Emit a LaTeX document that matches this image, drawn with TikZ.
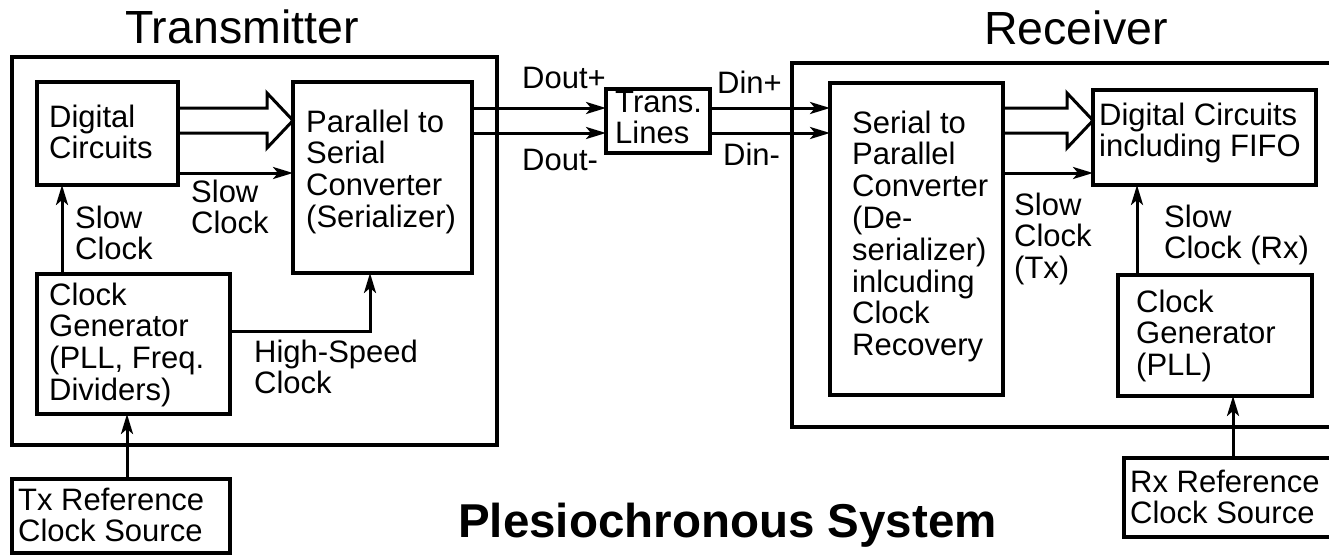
\documentclass[tikz,border=0pt]{standalone}
\usepackage{fontspec}
\setmainfont{Liberation Sans}
\usetikzlibrary{arrows.meta,calc}
\newcommand\bodyfont{\fontsize{31}{31.8}\selectfont}
\newcommand\titlefont{\fontsize{46.5}{50}\selectfont}
\newcommand\sysfont{\bfseries\fontsize{47.5}{50}\selectfont}
\begin{document}
\begin{tikzpicture}[x=1pt,y=-1pt,
  box/.style={draw, line width=4pt, rectangle, anchor=north west, inner sep=0pt, outer sep=0pt},
  frame/.style={box, line width=3.5pt},
  txt/.style={anchor=north west, inner sep=0pt, align=left, font=\bodyfont},
  lbl/.style={anchor=base west, inner sep=0pt, font=\bodyfont},
  arr/.style={line width=3pt, -{Stealth[length=20pt,width=12pt,inset=5pt]}},
  hollow/.style={line width=3pt, line join=miter}]
\useasboundingbox (0,0) rectangle (1329,555);
\fill[white] (0,0) rectangle (1329,555);
\clip (0,0) rectangle (1329,555);

% signal lanes between blocks
\coordinate (laneP) at (0,108);
\coordinate (laneN) at (0,133);
\coordinate (laneM) at (0,120.5);
\coordinate (laneS) at (0,173);

% ---------- transmitter ----------
\node[frame, minimum width=485pt, minimum height=388pt] (txouter) at (12,57) {};
\node[box, minimum width=141pt, minimum height=103pt] (txdig) at (37,82) {};
\node[box, minimum width=179pt, minimum height=191pt] (ser) at (293,82) {};
\node[box, minimum width=193pt, minimum height=140pt] (txclk) at (37,274) {};
\node[frame, minimum width=218pt, minimum height=74pt] (txref) at (12,479) {};

\node[anchor=base west, inner sep=0pt, font=\titlefont] (ttx) at (125,43) {Transmitter};
\node[txt] (txdigt) at (49,104.5) {Digital\\Circuits};
\node[txt] (sert) at (306,109.5) {Parallel to\\Serial\\Converter\\(Serializer)};
\node[txt] (slowa) at (191,179.5) {Slow\\Clock};
\node[txt] (slowb) at (75,205.5) {Slow\\Clock};
\node[txt] (txclkt) at (49,282.5) {Clock\\Generator\\(PLL, Freq.\\Dividers)};
\node[txt] (hsclk) at (254,339.5) {High-Speed\\Clock};
\node[txt] (txreft) at (18,487.5) {Tx Reference\\Clock Source};

\draw[hollow] (txdig.east|-laneP) -- ($(ser.west|-laneP)+(-26,0)$) -- ++(0,-15)
  -- (ser.west|-laneM) -- ++(-26,27.5) -- ++(0,-15) -- (txdig.east|-laneN);
\draw[arr] (txdig.east|-laneS) -- (ser.west|-laneS);
\draw[arr] ($(txclk.north west)+(25,0)$) -- ($(txdig.south west)+(25,0)$);
\draw[arr] ($(txclk.north east)+(0,57)$) -| ($(ser.south west)+(77,0)$);
\draw[arr] ($(txref.north west)+(115,0)$) -- ($(txclk.south west)+(90,0)$);

% ---------- channel ----------
\node[box, minimum width=104pt, minimum height=64pt] (trans) at (606,89) {};
\node[txt] (transt) at (615,90.5) {Trans.\\Lines};
\node[lbl] (doutp) at (522,88) {Dout+};
\node[lbl] (doutn) at (522,170) {Dout-};
\node[lbl] (dinp) at (717,93) {Din+};
\node[lbl] (dinn) at (723,165) {Din-};

\draw[arr] (ser.east|-laneP) -- (trans.west|-laneP);
\draw[arr] (ser.east|-laneN) -- (trans.west|-laneN);

% ---------- receiver ----------
\node[frame, minimum width=560pt, minimum height=364pt] (rxouter) at (792,63) {};
\node[box, minimum width=173pt, minimum height=312pt] (deser) at (830,83) {};
\node[box, minimum width=223pt, minimum height=95pt] (fifo) at (1093,90) {};
\node[box, minimum width=194pt, minimum height=121pt] (rxclk) at (1118,275) {};
\node[frame, minimum width=230pt, minimum height=79pt] (rxref) at (1124,458) {};

\draw[arr] (trans.east|-laneP) -- (deser.west|-laneP);
\draw[arr] (trans.east|-laneN) -- (deser.west|-laneN);

\node[anchor=base west, inner sep=0pt, font=\titlefont] (trx) at (984,44) {Receiver};
\node[txt] (desert) at (852,110.5) {Serial to\\Parallel\\Converter\\(De-\\serializer)\\inlcuding\\Clock\\Recovery};
\node[txt] (fifot) at (1099,102.5) {Digital Circuits\\including FIFO};
\node[txt] (slowtx) at (1014,192.5) {Slow\\Clock\\(Tx)};
\node[txt] (slowrx) at (1164,204.5) {Slow\\Clock (Rx)};
\node[txt] (rxclkt) at (1136,289.5) {Clock\\Generator\\(PLL)};
\node[txt] (rxreft) at (1130,469.5) {Rx Reference\\Clock Source};

\draw[hollow] (deser.east|-laneP) -- ($(fifo.west|-laneP)+(-26,0)$) -- ++(0,-15)
  -- (fifo.west|-laneM) -- ++(-26,27.5) -- ++(0,-15) -- (deser.east|-laneN);
\draw[arr] (deser.east|-laneS) -- (fifo.west|-laneS);
\draw[arr] ($(rxclk.north west)+(19,0)$) -- ($(fifo.south west)+(44,0)$);
\draw[arr] ($(rxref.north west)+(109,0)$) -- ($(rxclk.south west)+(115,0)$);

\node[anchor=base, inner sep=0pt, font=\sysfont] (sys) at (727.5,537) {Plesiochronous System};
\end{tikzpicture}
\end{document}
